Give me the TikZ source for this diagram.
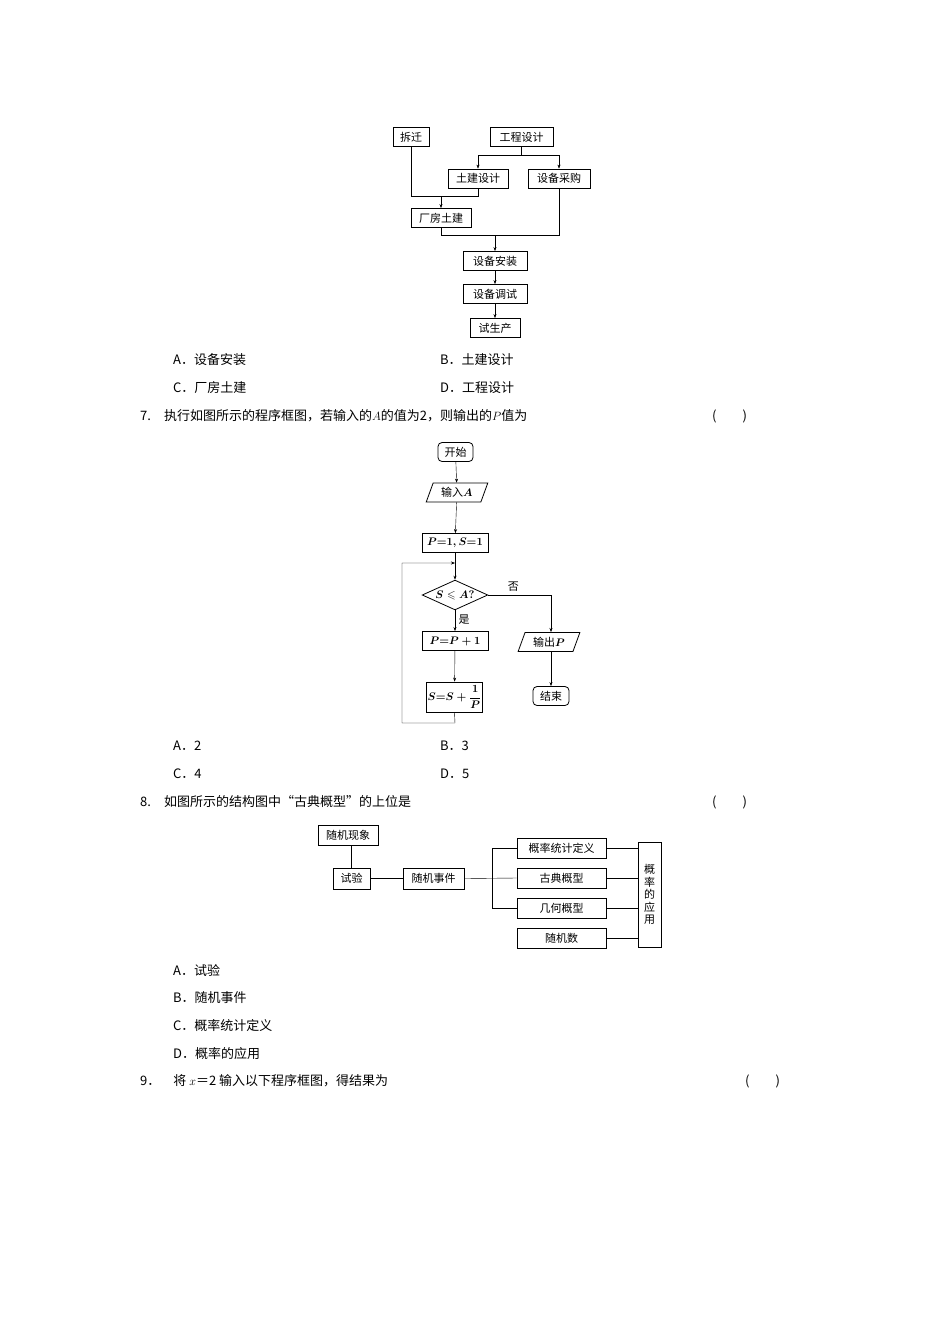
\documentclass[tikz,border=0pt]{standalone}
\usepackage{amsmath,amssymb}
\usepackage{fontspec}
\setmainfont{Noto Sans CJK SC}
\usetikzlibrary{shapes.geometric,arrows.meta}
\begin{document}
\begin{tikzpicture}[x=1pt,y=-1pt,
  bx/.style={draw,thick,minimum height=19pt,inner sep=2pt,font=\fontsize{11}{11}\selectfont},
  io/.style={draw,thick,trapezium,trapezium left angle=70,trapezium right angle=110,minimum height=19pt,inner sep=2pt,font=\fontsize{11}{11}\selectfont},
  rd/.style={bx,rounded corners=4pt},
  ar/.style={-{Stealth[length=4pt,width=3pt]}},
  ln/.style={thin},
  txt/.style={anchor=west,inner sep=0,font=\fontsize{13}{13}\selectfont}]
\useasboundingbox (0,0) rectangle (950,1344);
% diagram 1
\node[bx,minimum width=36pt] (cq) at (411,137) {拆迁};
\node[bx,minimum width=63pt] (gc) at (521.5,137) {工程设计};
\node[bx,minimum width=60pt] (tj) at (478,178.5) {土建设计};
\node[bx,minimum width=62pt] (sc) at (559,178.5) {设备采购};
\node[bx,minimum width=60pt] (cf) at (441,218) {厂房土建};
\node[bx,minimum width=64pt] (az) at (495,261) {设备安装};
\node[bx,minimum width=64pt] (ts) at (495,294) {设备调试};
\node[bx,minimum width=50pt] (sz) at (495,328) {试生产};
\coordinate (b1) at (521.5,155);
\draw[ln] (gc.south) -- (b1);
\draw[ln,ar] (b1) -| (tj.north);
\draw[ln,ar] (b1) -| (sc.north);
\coordinate (b2) at (411,196);
\draw[ln] (cq.south) -- (b2) -| (tj.south);
\draw[ln,ar] (441,196) -- (cf.north);
\coordinate (b3) at (441,235);
\draw[ln] (cf.south) -- (b3) -| (sc.south);
\draw[ln,ar] (495,235) -- (az.north);
\draw[ln,ar] (az) -- (ts);
\draw[ln,ar] (ts) -- (sz);
\node[txt] at (173,360) {A．设备安装};
\node[txt] at (440,360) {B．土建设计};
\node[txt] at (173,388) {C．厂房土建};
\node[txt] at (440,388) {D．工程设计};
\node[txt] at (140,416) {7.\quad 执行如图所示的程序框图，若输入的$A$的值为2，则输出的$P$值为};
\node[txt] at (712,416) {(\qquad)};
% diagram 2
\node[rd,minimum width=35pt] (ks) at (455.5,452) {开始};
\node[io,minimum width=48pt] (in) at (457,492.5) {输入$\boldsymbol{A}$};
\node[bx,minimum width=66pt] (init) at (455,543) {$\boldsymbol{P{=}1,S{=}1}$};
\node[draw,thick,diamond,aspect=2.2,inner sep=1pt,font=\fontsize{11}{11}\selectfont] (dm) at (455,595) {$\boldsymbol{S\leqslant A?}$};
\node[bx,minimum width=66pt] (pp) at (455,641) {$\boldsymbol{P{=}P+1}$};
\node[bx,minimum width=55pt,minimum height=30pt,inner sep=1pt] (ss) at (454.5,697) {$\boldsymbol{S{=}S+\dfrac{1}{P}}$};
\node[io,minimum width=50pt] (out) at (549,642) {输出$\boldsymbol{P}$};
\node[rd,minimum width=36pt] (js) at (551,696) {结束};
\draw[ln,ar] (ks) -- (in);
\draw[ln,ar] (in) -- (init);
\draw[ln,ar] (init) -- (dm);
\draw[ln,ar] (dm) -- node[right,font=\fontsize{11}{11}\selectfont,pos=0.45]{是} (pp);
\draw[ln,ar] (pp) -- (ss);
\coordinate (lp) at (455,563);
\draw[ln,ar] (ss.south) -- (455,723) -- (402,723) -- (402,563) -- (lp);
\draw[ln,ar] (dm.east) -- node[above,font=\fontsize{11}{11}\selectfont,pos=0.4]{否} (551,595) -- (551,632);
\draw[ln,ar] (551,652) -- (js);
\node[txt] at (173,746) {A．2};
\node[txt] at (440,746) {B．3};
\node[txt] at (173,774) {C．4};
\node[txt] at (440,774) {D．5};
\node[txt] at (140,802) {8.\quad 如图所示的结构图中“古典概型”的上位是};
\node[txt] at (712,802) {(\qquad)};
% diagram 3
\node[bx,minimum width=60pt,minimum height=20pt] (xx) at (348,835) {随机现象};
\node[bx,minimum width=37pt,minimum height=21pt] (sy) at (351.5,878.5) {试验};
\node[bx,minimum width=61pt,minimum height=21pt] (sj) at (433.5,878.5) {随机事件};
\node[bx,minimum width=89pt,minimum height=20pt] (r1) at (561.5,848) {概率统计定义};
\node[bx,minimum width=89pt,minimum height=20pt] (r2) at (561.5,878) {古典概型};
\node[bx,minimum width=89pt,minimum height=20pt] (r3) at (561.5,908) {几何概型};
\node[bx,minimum width=89pt,minimum height=20pt] (r4) at (561.5,938) {随机数};
\node[draw,thick,minimum width=23pt,minimum height=105pt,inner sep=1pt,align=center,font=\fontsize{11}{12.5}\selectfont] (yy) at (649.5,894.5) {概\\率\\的\\应\\用};
\draw[ln] (xx.south -| sy.north) -- (sy.north);
\draw[ln] (sy) -- (sj);
\draw[ln] (sj.east) -- (r2.west);
\draw[ln] (r1.west) -- (492,848) -- (492,908) -- (r3.west);
\foreach \r in {r1,r2,r3,r4} \draw[ln] (\r.east) -- (\r.east -| yy.west);
\node[txt] at (173,970) {A．试验};
\node[txt] at (173,998) {B．随机事件};
\node[txt] at (173,1026) {C．概率统计定义};
\node[txt] at (173,1054) {D．概率的应用};
\node[txt] at (140,1081) {9．\quad 将 $x$＝2 输入以下程序框图，得结果为};
\node[txt] at (745,1081) {(\qquad)};
\end{tikzpicture}
\end{document}
